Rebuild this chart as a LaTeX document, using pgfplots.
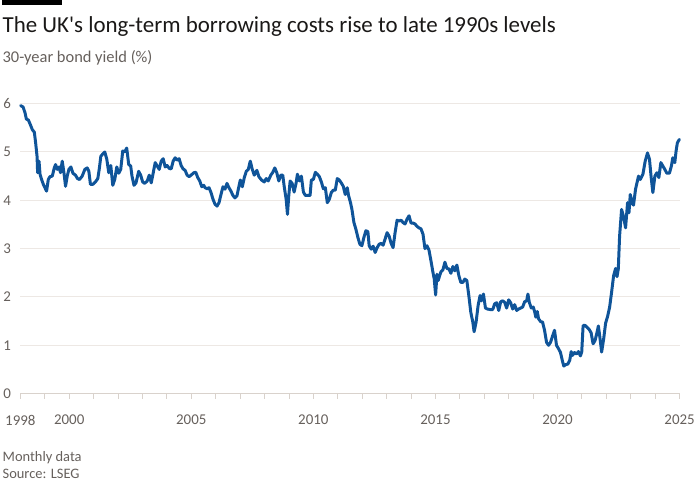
\documentclass[border=0pt]{standalone}
\usepackage{pgfplots}
\pgfplotsset{compat=1.18}
\usepackage{fontspec}
\setmainfont{Carlito}
\definecolor{ftblue}{HTML}{0F5499}
\definecolor{ftgray}{HTML}{66605C}
\definecolor{gridc}{HTML}{EDE8E4}
\definecolor{basec}{HTML}{D9D2CC}
\definecolor{titlec}{HTML}{1A1817}
\pgfplotstableread{
x y
1998.01 5.96
1998.11 5.93
1998.19 5.81
1998.245 5.68
1998.327 5.66
1998.42 5.55
1998.49 5.46
1998.571 5.41
1998.624 5.19
1998.682 4.91
1998.706 4.57
1998.763 4.81
1998.804 4.54
1998.869 4.43
1998.939 4.33
1999.033 4.23
1999.073 4.19
1999.143 4.43
1999.212 4.49
1999.306 4.50
1999.388 4.67
1999.441 4.74
1999.510 4.64
1999.580 4.69
1999.645 4.57
1999.714 4.81
1999.784 4.57
1999.849 4.29
1999.918 4.50
1999.988 4.64
2000.069 4.69
2000.151 4.56
2000.257 4.52
2000.339 4.45
2000.420 4.43
2000.531 4.50
2000.641 4.64
2000.735 4.67
2000.804 4.60
2000.869 4.33
2000.967 4.33
2001.073 4.38
2001.171 4.45
2001.237 4.67
2001.294 4.91
2001.376 4.96
2001.457 5.00
2001.539 4.85
2001.620 4.57
2001.702 4.72
2001.784 4.31
2001.865 4.43
2001.947 4.69
2002.029 4.56
2002.110 4.64
2002.192 5.02
2002.273 5.00
2002.355 5.08
2002.437 4.74
2002.518 4.71
2002.571 4.50
2002.653 4.31
2002.735 4.36
2002.845 4.60
2002.927 4.52
2003.008 4.38
2003.090 4.35
2003.196 4.40
2003.278 4.52
2003.359 4.36
2003.441 4.57
2003.522 4.78
2003.604 4.71
2003.686 4.64
2003.767 4.81
2003.849 4.86
2003.931 4.69
2004.012 4.72
2004.094 4.66
2004.176 4.65
2004.257 4.81
2004.339 4.88
2004.420 4.83
2004.502 4.86
2004.584 4.72
2004.665 4.65
2004.747 4.62
2004.829 4.52
2004.910 4.49
2004.992 4.52
2005.102 4.57
2005.184 4.58
2005.265 4.47
2005.347 4.40
2005.429 4.28
2005.510 4.31
2005.563 4.26
2005.645 4.24
2005.727 4.26
2005.808 4.16
2005.890 4.02
2005.971 3.92
2006.053 3.88
2006.135 3.95
2006.216 4.12
2006.298 4.28
2006.380 4.23
2006.461 4.35
2006.543 4.26
2006.624 4.19
2006.706 4.10
2006.788 4.05
2006.869 4.09
2006.951 4.29
2007.008 4.42
2007.090 4.28
2007.171 4.47
2007.253 4.60
2007.335 4.64
2007.416 4.81
2007.498 4.64
2007.580 4.52
2007.686 4.62
2007.767 4.49
2007.878 4.42
2007.988 4.38
2008.069 4.45
2008.151 4.40
2008.257 4.52
2008.339 4.58
2008.420 4.67
2008.502 4.57
2008.584 4.40
2008.665 4.52
2008.747 4.52
2008.804 4.29
2008.886 4.02
2008.939 3.71
2008.992 4.09
2009.049 4.40
2009.131 4.35
2009.212 4.17
2009.294 4.36
2009.347 4.54
2009.429 4.40
2009.510 4.50
2009.592 4.17
2009.673 4.10
2009.784 4.10
2009.865 4.10
2009.918 4.42
2010.000 4.43
2010.082 4.58
2010.163 4.54
2010.245 4.49
2010.327 4.38
2010.408 4.24
2010.490 4.26
2010.571 3.95
2010.653 4.02
2010.735 4.16
2010.816 4.21
2010.898 4.21
2010.980 4.45
2011.061 4.42
2011.143 4.36
2011.224 4.29
2011.306 4.12
2011.388 4.26
2011.441 4.10
2011.522 3.95
2011.580 3.81
2011.661 3.54
2011.743 3.40
2011.824 3.23
2011.906 3.09
2011.988 3.06
2012.069 3.23
2012.151 3.37
2012.233 3.35
2012.286 3.06
2012.367 2.99
2012.449 3.05
2012.531 2.92
2012.612 3.02
2012.694 3.09
2012.776 3.11
2012.857 3.07
2012.939 3.20
2013.020 3.33
2013.102 3.26
2013.184 3.11
2013.265 3.02
2013.347 3.33
2013.429 3.59
2013.510 3.57
2013.592 3.59
2013.673 3.54
2013.755 3.51
2013.837 3.61
2013.918 3.68
2014.000 3.53
2014.082 3.53
2014.163 3.51
2014.245 3.46
2014.327 3.43
2014.408 3.41
2014.490 3.30
2014.571 3.00
2014.653 3.06
2014.735 2.97
2014.816 2.75
2014.898 2.51
2014.951 2.37
2015.008 2.04
2015.061 2.47
2015.114 2.34
2015.171 2.44
2015.224 2.52
2015.306 2.56
2015.388 2.72
2015.469 2.59
2015.551 2.58
2015.633 2.49
2015.714 2.63
2015.796 2.54
2015.878 2.66
2015.959 2.44
2016.041 2.30
2016.122 2.30
2016.204 2.37
2016.286 2.34
2016.367 2.03
2016.449 1.68
2016.531 1.48
2016.584 1.28
2016.665 1.48
2016.747 1.82
2016.829 2.03
2016.886 1.92
2016.967 2.06
2017.049 1.77
2017.131 1.75
2017.237 1.74
2017.347 1.74
2017.429 1.86
2017.510 1.88
2017.592 1.72
2017.673 1.90
2017.755 1.92
2017.837 1.89
2017.918 1.77
2018.000 1.94
2018.082 1.88
2018.163 1.75
2018.245 1.84
2018.327 1.72
2018.408 1.75
2018.490 1.77
2018.571 1.79
2018.653 1.90
2018.735 1.92
2018.788 2.06
2018.845 1.89
2018.927 1.77
2019.008 1.79
2019.061 1.70
2019.114 1.58
2019.171 1.70
2019.224 1.55
2019.306 1.49
2019.388 1.48
2019.469 1.31
2019.551 1.06
2019.633 1.00
2019.714 1.06
2019.796 1.19
2019.878 1.31
2019.959 1.00
2020.041 0.93
2020.122 0.85
2020.204 0.67
2020.257 0.57
2020.339 0.60
2020.420 0.61
2020.502 0.69
2020.559 0.87
2020.612 0.79
2020.694 0.85
2020.776 0.82
2020.857 0.87
2020.939 0.78
2020.992 0.86
2021.049 1.41
2021.131 1.41
2021.212 1.37
2021.294 1.33
2021.376 1.26
2021.457 1.03
2021.539 1.10
2021.620 1.27
2021.673 1.40
2021.727 1.20
2021.808 0.86
2021.890 1.13
2021.971 1.46
2022.053 1.60
2022.135 1.79
2022.216 2.10
2022.298 2.44
2022.380 2.59
2022.437 2.42
2022.490 2.58
2022.543 3.26
2022.624 3.81
2022.706 3.66
2022.788 3.43
2022.869 3.95
2022.927 3.74
2022.980 4.12
2023.061 3.94
2023.114 3.90
2023.196 4.23
2023.318 4.50
2023.388 4.43
2023.498 4.54
2023.592 4.81
2023.686 4.98
2023.767 4.85
2023.837 4.47
2023.906 4.16
2023.988 4.50
2024.069 4.57
2024.151 4.47
2024.233 4.78
2024.314 4.71
2024.396 4.64
2024.478 4.56
2024.584 4.56
2024.665 4.71
2024.722 4.88
2024.804 4.78
2024.857 5.02
2024.910 5.19
2024.992 5.26
}\yields
\begin{document}
\begin{tikzpicture}[x=1pt,y=1pt]
\path (0,0) rectangle (700,500);
\fill[black] (0,495) rectangle (60,500);
\node[anchor=base west, inner sep=0, font=\fontsize{23}{27}\selectfont, text=titlec] at (0,467) {The UK\textquotesingle s long-term borrowing costs rise to late 1990s levels};
\node[anchor=base west, inner sep=0, font=\fontsize{16.5}{19}\selectfont, text=ftgray] at (0,437) {30-year bond yield (\%)};
\node[anchor=base west, inner sep=0, font=\fontsize{14.5}{17}\selectfont, text=ftgray] at (0,37) {Monthly data};
\node[anchor=base west, inner sep=0, font=\fontsize{14.5}{17}\selectfont, text=ftgray] at (0,20) {Source: LSEG};
\begin{axis}[
  at={(18pt,105pt)}, anchor=south west,
  scale only axis, width=661.5pt, height=300.7pt,
  xmin=1998, xmax=2025, ymin=0, ymax=6.2,
  axis line style={draw=none},
  ytick={0,1,2,3,4,5,6},
  ymajorgrids, grid style={gridc, line width=1pt},
  xtick={1998,2000,2005,2010,2015,2020,2025},
  minor xtick={1999,2001,2002,2003,2004,2006,2007,2008,2009,2011,2012,2013,2014,2016,2017,2018,2019,2021,2022,2023,2024},
  xtick pos=bottom, ytick pos=left,
  tick align=outside,
  major tick length=5pt, minor tick length=5pt,
  x tick style={basec, line width=0.9pt},
  minor x tick style={basec, line width=0.9pt},
  y tick style={draw=none},
  xmajorgrids=false,
  /pgf/number format/assume math mode=true,
  x tick label style={/pgf/number format/1000 sep={}, font=\fontsize{15}{18}\selectfont, text=ftgray, yshift=-13pt},
  y tick label style={font=\fontsize{15}{18}\selectfont, text=ftgray, xshift=-1pt},
  clip=false,
]
\draw[basec, line width=1.2pt] (axis cs:1998,0) -- (axis cs:2025,0);
\addplot[ftblue, line width=3pt, line join=round, line cap=round, no marks] table[x=x,y=y] {\yields};
\end{axis}
\end{tikzpicture}
\end{document}
